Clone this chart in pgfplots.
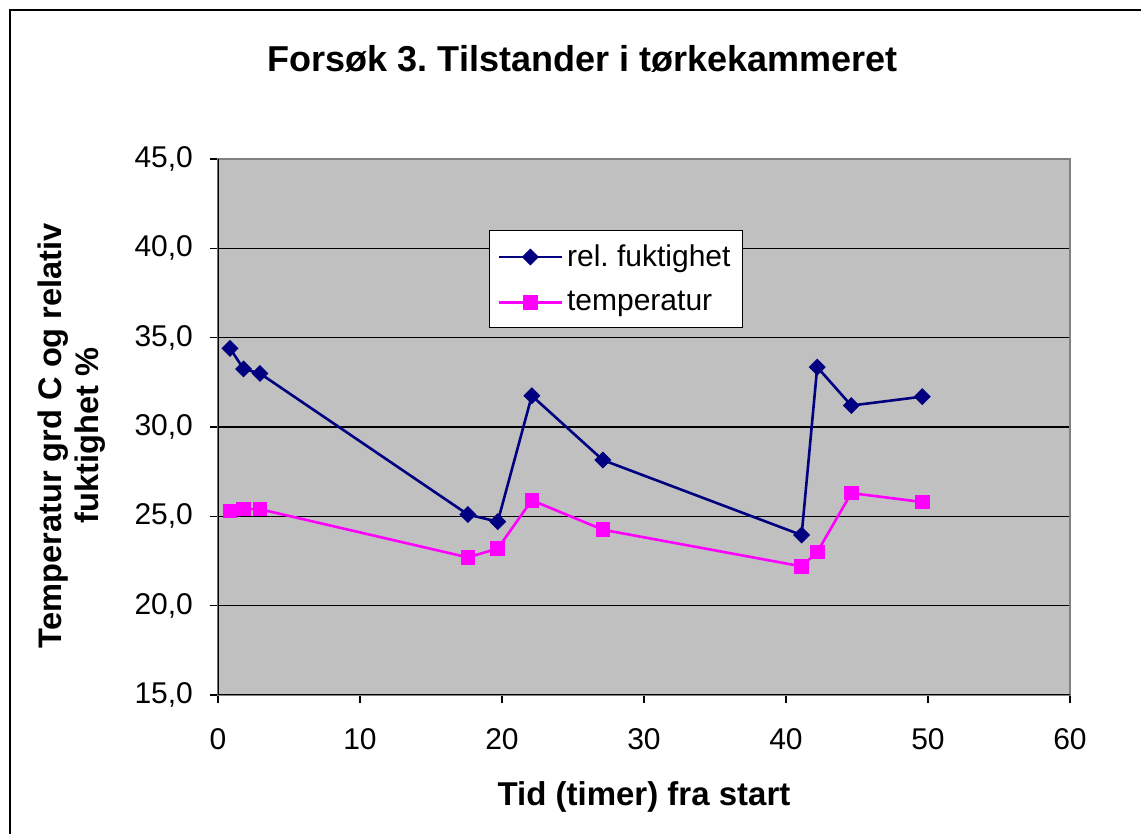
\documentclass[border=0pt]{standalone}
\usepackage{fontspec}
\setmainfont{Liberation Sans}
\usepackage{pgfplots}
\pgfplotsset{compat=1.18}
\definecolor{navyb}{HTML}{000080}
\definecolor{magp}{HTML}{FF00FF}
\definecolor{plotgray}{HTML}{C0C0C0}
\definecolor{framegray}{HTML}{808080}
\frenchspacing
\begin{document}
\begin{tikzpicture}
\useasboundingbox (0,0) rectangle (570.5pt,417pt);
\fill[white] (0,0) rectangle (570.5pt,417pt);
\draw[black, line width=1.3pt] (5pt,-10pt) -- (5pt,412pt) -- (590pt,412pt);
\begin{axis}[
  at={(109pt,69.5pt)}, anchor=south west,
  scale only axis, width=426pt, height=268pt,
  xmin=0, xmax=60, ymin=15, ymax=45,
  xtick={0,10,...,60}, ytick={15,20,...,45},
  axis background/.style={fill=plotgray},
  ymajorgrids, grid style={black, line width=0.6pt},
  axis line style={framegray, line width=0.8pt},
  tick align=outside, tick pos=left, major tick length=4pt,
  tick style={black, line width=0.6pt},
  /pgf/number format/assume math mode=true,
  yticklabel style={/pgf/number format/fixed, /pgf/number format/fixed zerofill, /pgf/number format/precision=1, /pgf/number format/use comma, xshift=-5pt},
  xticklabel style={yshift=-9pt},
  ticklabel style={font=\fontsize{15}{18}\selectfont},
  title={Forsøk 3. Tilstander i tørkekammeret},
  title style={font=\bfseries\fontsize{18}{21}\selectfont, at={(0.428,1)}, anchor=center, yshift=44pt},
  xlabel={Tid (timer) fra start},
  xlabel style={font=\bfseries\fontsize{16.5}{19}\selectfont, at={(0.5,0)}, anchor=center, yshift=-51pt},
  ylabel={Temperatur grd C og relativ\\fuktighet \%},
  ylabel style={font=\bfseries\fontsize{16.3}{18.5}\selectfont, align=center, at={(-0.1714,0.484)}, anchor=center},
  legend style={at={(0.318,0.8675)}, anchor=north west, draw=black, fill=white, line width=0.6pt,
    font=\fontsize{15}{18}\selectfont, inner xsep=4pt, inner ysep=5pt, row sep=7pt},
  legend cell align=left,
  legend image code/.code={\draw[mark repeat=2,mark phase=2,#1] plot coordinates {(0pt,0pt)(15.75pt,0pt)(31.5pt,0pt)};},
]
\addplot[navyb, line width=1.3pt, mark=square*, mark size=2.75pt, mark options={rotate=45, fill=navyb, draw=navyb, line width=0.5pt}]
 coordinates {(0.85,34.4)(1.8,33.25)(2.95,33.0)(17.6,25.1)(19.7,24.7)(22.1,31.75)(27.1,28.15)(41.1,23.95)(42.2,33.35)(44.6,31.2)(49.6,31.7)};
\addlegendentry{rel. fuktighet}
\addplot[magp, line width=1.3pt, mark=square*, mark size=3.4pt, mark options={fill=magp, draw=magp, line width=0.5pt}]
 coordinates {(0.85,25.3)(1.8,25.4)(2.95,25.4)(17.6,22.7)(19.7,23.2)(22.1,25.9)(27.1,24.25)(41.1,22.2)(42.2,23.0)(44.6,26.3)(49.6,25.8)};
\addlegendentry{temperatur}
\draw[black, line width=0.8pt] (rel axis cs:0,1) -- (rel axis cs:0,0) -- (rel axis cs:1,0);
\end{axis}
\end{tikzpicture}
\end{document}
